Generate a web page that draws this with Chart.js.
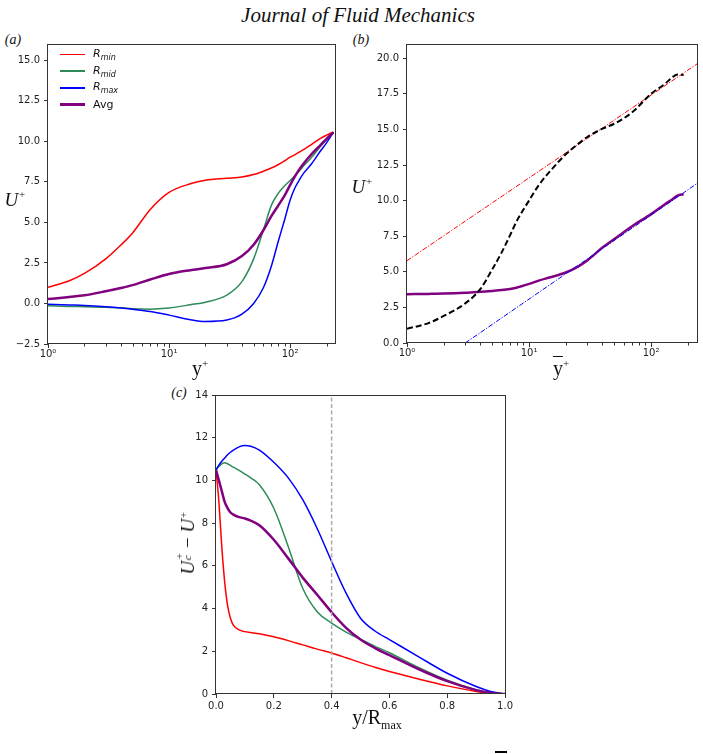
<!DOCTYPE html>
<html><head><meta charset="utf-8">
<script src="https://cdn.jsdelivr.net/npm/chart.js@4.4.1/dist/chart.umd.min.js"></script>
<style>
html,body{margin:0;padding:0;background:#fff;}
body{width:703px;height:754px;position:relative;overflow:hidden;font-family:'DejaVu Sans',sans-serif;}
canvas{position:absolute;}
.t{position:absolute;white-space:nowrap;color:#111;transform:translate(-50%,-50%);line-height:1;}
.serif{font-family:'Liberation Serif','Times New Roman',serif;}
.it{font-style:italic;}
.leg{position:absolute;left:60px;top:46px;font-family:'DejaVu Sans',sans-serif;font-size:11px;color:#111;}
.leg .row{height:16.7px;display:flex;align-items:center;}
.leg .ln{display:inline-block;width:25px;margin-right:8px;}
.leg sub{font-size:8px;vertical-align:-3px;}
.stk{display:inline-block;position:relative;width:0.42em;height:1em;}
.stk span{position:absolute;left:0.05em;font-size:0.6em;line-height:1;}
.ov{text-decoration:overline;text-decoration-thickness:1px;}
</style></head><body>

<div class="t serif it" style="left:358px;top:15px;font-size:21px;">Journal of Fluid Mechanics</div>
<div class="t serif it" style="left:13px;top:40px;font-size:14px;">(a)</div>
<div class="t serif it" style="left:361px;top:40px;font-size:14px;">(b)</div>
<div class="t serif it" style="left:179px;top:393px;font-size:14px;">(c)</div>

<canvas id="ca" width="345" height="345" style="left:0px;top:30px;width:345px;height:345px;"></canvas>
<canvas id="cb" width="348" height="345" style="left:355px;top:30px;width:348px;height:345px;"></canvas>
<canvas id="cc" width="345" height="340" style="left:170px;top:385px;width:345px;height:340px;"></canvas>

<div class="t serif it" style="left:15px;top:199px;font-size:19px;">U<sup style="font-size:11px;">+</sup></div>
<div class="t serif" style="left:200px;top:368px;font-size:20px;">y<sup style="font-size:11px;">+</sup></div>
<div class="t serif it" style="left:362px;top:186px;font-size:19px;">U<sup style="font-size:11px;">+</sup></div>
<div class="t serif" style="left:561px;top:368px;font-size:20px;"><span class="ov">y</span><sup style="font-size:11px;">+</sup></div>
<div class="t serif" style="left:377px;top:719px;font-size:20px;">y/R<sub style="font-size:12px;">max</sub></div>
<div class="t serif it" style="left:186px;top:543px;font-size:19px;transform:translate(-50%,-50%) rotate(-90deg);">U<span class="stk"><span style="top:-0.12em;">+</span><span style="top:0.62em;">c</span></span> <span style="font-style:normal;">−</span> U<sup style="font-size:11px;">+</sup></div>

<div class="leg">
  <div class="row"><span class="ln" style="height:1.6px;background:#ff0000;"></span><i>R<sub>min</sub></i></div>
  <div class="row"><span class="ln" style="height:1.6px;background:#2e8b57;"></span><i>R<sub>mid</sub></i></div>
  <div class="row"><span class="ln" style="height:1.6px;background:#0000ff;"></span><i>R<sub>max</sub></i></div>
  <div class="row"><span class="ln" style="height:2.6px;background:#800080;"></span>Avg</div>
</div>

<div style="position:absolute;left:495px;top:751px;width:12px;height:2px;background:#000;"></div>

<script>
// ---------- Panel (a) data ----------
const aX    = [1,1.5,2,3,4,5,7,10,15,20,30,40,50,60,70,80,90,100,110,120,130,150,180,200,228];
const aRmin = [0.99,1.4,1.85,2.75,3.6,4.35,5.8,6.85,7.38,7.6,7.72,7.8,7.95,8.15,8.35,8.57,8.8,9.02,9.18,9.35,9.5,9.8,10.2,10.38,10.58];
const aRmid = [-0.14,-0.18,-0.2,-0.24,-0.27,-0.32,-0.35,-0.28,-0.08,0.08,0.52,1.35,2.75,4.5,6.05,6.8,7.25,7.58,7.9,8.2,8.5,9.0,9.72,10.1,10.55];
const aRmax = [-0.05,-0.09,-0.12,-0.2,-0.28,-0.36,-0.5,-0.72,-1.0,-1.11,-1.02,-0.66,0.0,0.95,2.3,3.85,5.15,6.37,7.15,7.65,8.05,8.6,9.45,9.9,10.55];
const aAvg  = [0.27,0.4,0.5,0.75,0.95,1.13,1.48,1.82,2.05,2.18,2.42,2.92,3.62,4.5,5.38,6.05,6.65,7.3,7.85,8.3,8.65,9.2,9.8,10.15,10.55];
const aYTicks = [-2.5,0,2.5,5,7.5,10,12.5,15];

// ---------- Panel (b) data ----------
const bX     = [1,1.5,2,3,4,5,6,7,8,10,12,15,20,25,30,40,50,70,100,130,150,165,185];
const bBlack = [1.0,1.4,1.9,2.78,3.8,5.18,6.4,7.58,8.63,10.0,11.08,12.1,13.25,13.95,14.47,15.05,15.4,16.2,17.5,18.2,18.67,18.85,18.83];
const bAvg   = [3.43,3.45,3.47,3.53,3.6,3.66,3.72,3.8,3.9,4.15,4.38,4.62,4.95,5.35,5.8,6.7,7.3,8.2,9.05,9.75,10.1,10.35,10.45];
const bLogOuterX = [1,238];
const bLogOuterY = [5.78,19.6];
const bLogInnerX = [3.0,238];
const bLogInnerY = [0.0,11.2];
const bYTicks = [0,2.5,5,7.5,10,12.5,15,17.5,20];

// ---------- Panel (c) data ----------
const cX    = [0,0.01,0.02,0.03,0.04,0.05,0.06,0.08,0.1,0.12,0.15,0.2,0.25,0.3,0.35,0.4,0.45,0.5,0.55,0.6,0.7,0.8,0.9,0.95,1.0];
const cRmin = [10.5,9.0,6.9,5.25,4.15,3.55,3.22,3.0,2.92,2.88,2.82,2.68,2.5,2.3,2.1,1.92,1.7,1.47,1.25,1.05,0.7,0.38,0.12,0.04,0];
const cRmid = [10.5,10.65,10.78,10.83,10.78,10.7,10.62,10.47,10.3,10.12,9.8,8.7,6.9,4.95,3.85,3.32,2.9,2.56,2.23,1.93,1.25,0.65,0.2,0.06,0];
const cRmax = [10.5,10.72,10.9,11.05,11.2,11.32,11.42,11.57,11.63,11.6,11.42,10.85,10.12,9.1,7.75,6.2,4.72,3.55,2.95,2.55,1.75,0.97,0.35,0.12,0];
const cAvg  = [10.5,10.0,9.5,9.0,8.7,8.5,8.4,8.28,8.22,8.12,7.9,7.22,6.35,5.45,4.65,3.83,3.1,2.55,2.15,1.82,1.17,0.6,0.18,0.05,0];
const cRefX = [0.4,0.4];
const cRefY = [0,14];
const cXTicks = [0,0.2,0.4,0.6,0.8,1.0];
const cYTicks = [0,2,4,6,8,10,12,14];

const logMajor = [1,10,100];
const logMinor = [2,3,4,5,6,7,8,9,20,30,40,50,60,70,80,90,200];
const supLabel = {1:'10\u2070',10:'10\u00b9',100:'10\u00b2'};

const RED='#ff0000', GREEN='#2e8b57', BLUE='#0000ff', PURPLE='#800080';

function pts(xs, ys){ return xs.map((x,i)=>({x:x, y:ys[i]})); }
// first dataset in each list is drawn on top
function ds(label, xs, ys, color, width, dash, smooth){
  return {label, data: pts(xs,ys), borderColor: color, backgroundColor: color,
    borderWidth: width, borderDash: dash||[], pointRadius: 0, fill: false,
    cubicInterpolationMode: smooth===false ? 'default' : 'monotone', tension: 0};
}
function axis(type, min, max, tickVals, labelFn, fitSize, isX, pad){
  return {
    type, min, max, bounds: 'data', position: isX ? 'bottom' : 'left',
    afterBuildTicks: s => { s.ticks = tickVals.map(v => ({value: v})); },
    afterFit: s => { if (isX) s.height = fitSize; else s.width = fitSize; },
    ticks: { callback: v => labelFn(v), font: {family: 'DejaVu Sans', size: 10}, color: '#222',
      padding: pad, maxRotation: 0, autoSkip: false },
    grid: { display: true, drawOnChartArea: false, drawTicks: true, tickLength: 4, tickColor: '#333', tickWidth: 1 },
    border: { display: false }
  };
}
function framePlugin(minor){
  return {
    id: 'frameMinor',
    afterDatasetsDraw(chart){
      const {ctx, chartArea: a} = chart;
      ctx.save();
      ctx.strokeStyle = '#333'; ctx.lineWidth = 1;
      ctx.strokeRect(Math.round(a.left) - 0.5, Math.round(a.top) + 0.5,
                     Math.round(a.right) - Math.round(a.left) + 1, Math.round(a.bottom) - Math.round(a.top) - 1);
      if (minor) {
        const xs = chart.scales.x;
        ctx.beginPath();
        minor.forEach(v => {
          if (v < xs.min || v > xs.max) return;
          const px = Math.round(xs.getPixelForValue(v)) + 0.5;
          ctx.moveTo(px, a.bottom); ctx.lineTo(px, a.bottom + 2.5);
        });
        ctx.stroke();
      }
      ctx.restore();
    }
  };
}
function make(id, box, plot, xAxis, yAxis, datasets, minor){
  return new Chart(document.getElementById(id), {
    type: 'line',
    data: { datasets },
    options: {
      responsive: false, animation: false, devicePixelRatio: 1,
      layout: { autoPadding: false, padding: { top: plot.T - box.top, right: box.left + box.w - plot.R, left: 0, bottom: 0 } },
      scales: { x: xAxis, y: yAxis },
      plugins: { legend: { display: false }, tooltip: { enabled: false } }
    },
    plugins: [framePlugin(minor)]
  });
}
const fmtDec = v => (v < 0 ? '\u2212' + Math.abs(v).toFixed(1) : v.toFixed(1));

// Panel (a)
const boxA = {left:0, top:30, w:345, h:345}, plotA = {L:48, T:44, R:335, B:344};
make('ca', boxA, plotA,
  axis('logarithmic', 1, 235, logMajor, v => supLabel[v] || '', boxA.top + boxA.h - plotA.B, true, 0),
  axis('linear', -2.5, 16, aYTicks, fmtDec, plotA.L - boxA.left, false, 4),
  [ ds('Avg',  aX, aAvg,  PURPLE, 2.5),
    ds('Rmax', aX, aRmax, BLUE, 1.5),
    ds('Rmid', aX, aRmid, GREEN, 1.5),
    ds('Rmin', aX, aRmin, RED, 1.5) ],
  logMinor);

// Panel (b)
const boxB = {left:355, top:30, w:348, h:345}, plotB = {L:407, T:44, R:697, B:343};
make('cb', boxB, plotB,
  axis('logarithmic', 1, 238, logMajor, v => supLabel[v] || '', boxB.top + boxB.h - plotB.B, true, 0),
  axis('linear', 0, 21, bYTicks, fmtDec, plotB.L - boxB.left, false, 4),
  [ ds('reference', bX, bBlack, '#000000', 2, [6,3]),
    ds('log law (inner)', bLogInnerX, bLogInnerY, BLUE, 1, [5,1.6,1.2,1.6], false),
    ds('log law (outer)', bLogOuterX, bLogOuterY, RED, 1, [5,1.6,1.2,1.6], false),
    ds('Avg', bX, bAvg, PURPLE, 2.5) ],
  logMinor);

// Panel (c)
const boxC = {left:170, top:385, w:345, h:340}, plotC = {L:216, T:395, R:508, B:694};
make('cc', boxC, plotC,
  axis('linear', 0, 1, cXTicks, v => v.toFixed(1), boxC.top + boxC.h - plotC.B, true, 2),
  axis('linear', 0, 14, cYTicks, v => String(v), plotC.L - boxC.left, false, 4),
  [ ds('y/R = 0.4', cRefX, cRefY, '#aaaaaa', 1.5, [4,2.5], false),
    ds('Avg',  cX, cAvg,  PURPLE, 2.5),
    ds('Rmax', cX, cRmax, BLUE, 1.5),
    ds('Rmid', cX, cRmid, GREEN, 1.5),
    ds('Rmin', cX, cRmin, RED, 1.5) ],
  null);
</script>
</body></html>
